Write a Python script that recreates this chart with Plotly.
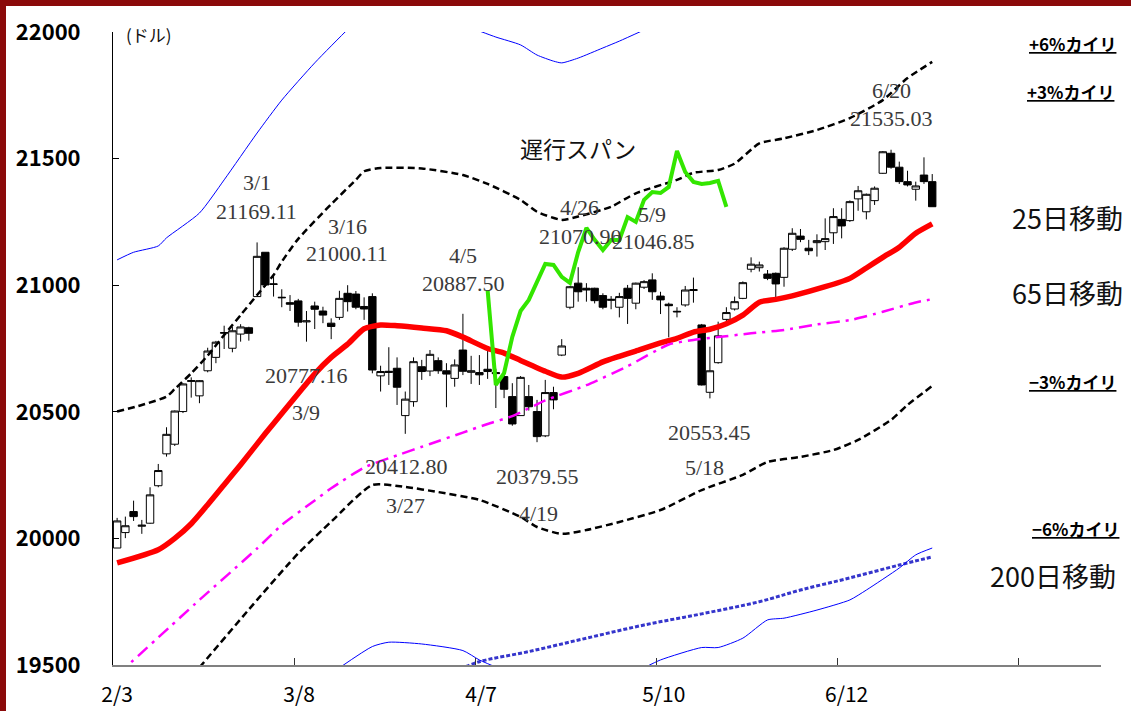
import plotly.graph_objects as go

# ---------------- data ----------------
dates = ["2/3","2/6","2/7","2/8","2/9","2/10","2/13","2/14","2/15","2/16","2/17",
         "2/21","2/22","2/23","2/24","2/27","2/28","3/1","3/2","3/3","3/6","3/7","3/8",
         "3/9","3/10","3/13","3/14","3/15","3/16","3/17","3/20","3/21","3/22","3/23",
         "3/24","3/27","3/28","3/29","3/30","3/31","4/3","4/4","4/5","4/6","4/7",
         "4/10","4/11","4/12","4/13","4/17","4/18","4/19","4/20","4/21","4/24","4/25",
         "4/26","4/27","4/28","5/1","5/2","5/3","5/4","5/5","5/8","5/9","5/10","5/11",
         "5/12","5/15","5/16","5/17","5/18","5/19","5/22","5/23","5/24","5/25","5/26",
         "5/30","5/31","6/1","6/2","6/5","6/6","6/7","6/8","6/9","6/12","6/13","6/14",
         "6/15","6/16","6/19","6/20","6/21","6/22","6/23","6/26","6/27"]

open_ = [19962,20023,20106,20048,20060,20208,20334,20372,20501,20620,20563,
         20662,20715,20810,20751,20807,20832,20955,21130,21003,20950,20931,20938,
         20855,20918,20898,20850,20873,20968,20965,20916,20955,20642,20660,
         20672,20485,20540,20678,20661,20702,20662,20632,20744,20656,20655,
         20668,20655,20639,20560,20485,20560,20501,20405,20576,20724,20913,
         21008,20988,20988,20959,20940,20913,20988,20929,20992,21021,20957,20925,
         20897,20922,20983,20843,20577,20694,20865,20906,20948,21063,21069,
         21044,21047,21031,21142,21194,21146,21168,21172,21207,21260,21255,21341,
         21290,21334,21442,21521,21466,21409,21379,21435,21409]
high = [20081,20086,20149,20073,20202,20294,20439,20505,20612,20636,20625,
        20753,20780,20840,20836,20846,20836,21169,21130,21038,20984,20961,20946,
        20898,20935,20915,20869,20978,21000,20977,20952,20968,20682,20755,
        20715,20580,20715,20705,20744,20715,20692,20707,20887,20721,20724,
        20744,20670,20649,20613,20641,20606,20547,20626,20599,20787,20997,
        21071,21008,20990,20968,20957,20970,21001,21010,21020,21047,20974,20931,
        20913,20997,21030,20847,20757,20856,20913,20955,21015,21110,21093,
        21060,21050,21150,21225,21222,21179,21201,21264,21304,21304,21335,21392,
        21362,21390,21530,21535,21488,21452,21409,21505,21439]
low = [19962,20001,20069,20018,20058,20202,20323,20365,20495,20556,20534,
       20656,20692,20748,20735,20777,20781,20955,20994,20955,20913,20898,20836,
       20777,20827,20850,20787,20863,20896,20905,20863,20652,20580,20606,
       20527,20413,20520,20626,20641,20650,20518,20599,20645,20610,20606,
       20630,20515,20554,20445,20485,20505,20380,20400,20510,20720,20905,
       20935,20935,20928,20905,20905,20873,20847,20905,20985,20942,20886,20794,
       20873,20915,20931,20604,20553,20690,20847,20900,20945,21051,21054,
       21020,20948,20994,21135,21170,21119,21113,21139,21163,21185,21250,21294,
       21260,21317,21440,21460,21400,21390,21334,21400,21310]
close = [20069,20050,20086,20052,20172,20268,20411,20503,20610,20623,20623,
         20740,20775,20813,20820,20835,20810,21114,21001,21005,20952,20925,20854,
         20859,20905,20882,20837,20948,20935,20913,20906,20665,20659,20656,
         20597,20550,20698,20659,20727,20662,20649,20685,20660,20662,20646,
         20659,20651,20589,20452,20636,20520,20402,20576,20547,20760,20994,
         20974,20981,20939,20913,20944,20955,20948,21008,21014,20974,20942,20919,
         20895,20981,20979,20606,20662,20800,20892,20935,21010,21083,21080,
         21027,21005,21146,21205,21181,21136,21176,21184,21271,21234,21330,21373,
         21359,21383,21527,21466,21409,21396,21392,21409,21310]
day = list(range(len(dates)))

# 25-day moving average
ma25_x = [0,5,7,9,11,13,15,18,20,22,24,26,28,30,32,34,37,40,42,45,47,49,52,54,56,59,
          61,63,66,68,70,72,74,76,78,80,82,86,89,91,93,95,97,99]
ma25_y = [19903,19955,20000,20058,20133,20212,20291,20414,20493,20572,20650,20715,20767,
          20828,20843,20840,20831,20820,20795,20750,20732,20703,20660,20637,20652,20697,
          20719,20740,20772,20790,20815,20826,20848,20882,20933,20944,20958,20994,21027,
          21068,21110,21150,21205,21242]
# 65-day moving average
ma65_x = [0,10,17,20,24,26,30,34,38,42,45,48,52,57,62,67,70,73,77,81,85,89,93,97,99]
ma65_y = [19460,19757,19960,20053,20150,20198,20280,20328,20373,20418,20452,20483,20545,
          20605,20680,20766,20784,20795,20810,20823,20845,20862,20895,20932,20945]
# 200-day moving average
ma200_x = [41,44,50,57,64,71,78,83,89,95,99]
ma200_y = [19475,19513,19553,19606,19658,19702,19750,19796,19844,19895,19927]
# +3% band
up3_x = [0,3,6,7,9,11,13,15,17,19,20,22,26,29,30,32,37,42,45,49,51,54,56,60,63,68,70,
         73,75,78,81,85,89,93,96,99]
up3_y = [20501,20527,20560,20590,20652,20722,20803,20882,20961,21040,21093,21183,21320,
         21416,21450,21463,21461,21435,21400,21337,21290,21258,21271,21310,21363,21416,
         21444,21455,21480,21560,21580,21613,21660,21731,21818,21882]
# -3% band
dn3_x = [10,17,22,26,31,35,39,44,49,51,54,57,61,66,71,76,79,83,87,90,94,96,99]
dn3_y = [19490,19757,19941,20066,20211,20203,20183,20152,20085,20045,20018,20033,20065,
         20112,20191,20251,20302,20322,20349,20389,20468,20527,20602]
# +6% band (two visible pieces)
up6_x = [0,2,5,6,10,13,17,20,24,28,29, None, 44,46,49,51,53,54,56,59,61,64]
up6_y = [21100,21130,21155,21187,21285,21416,21601,21731,21878,22010,22040, None,
         22004,21980,21949,21909,21885,21878,21897,21937,21964,22008]
# -6% band (two visible pieces)
dn6_x = [27,31,33,37,42,44,47, None, 64,66,71,73,76,79,81,85,89,91,95,97,99]
dn6_y = [19489,19573,19590,19583,19557,19520,19478, None,
         19489,19520,19569,19569,19606,19678,19685,19717,19757,19796,19883,19935,19962]
# lagging span
lag_x = list(range(45, 75))
lag_y = [20980,20606,20653,20796,20898,20942,21013,21084,21080,21033,21009,21131,21226,
         21179,21139,21179,21179,21269,21250,21337,21368,21364,21388,21530,21447,21408,
         21400,21404,21412,21309]

tick_label_pos = [0, 22.1, 44.2, 66.4, 88.6]
tick_label_txt = ["2/3", "3/8", "4/7", "5/10", "6/12"]
tick_mark_pos = [21.5, 43.5, 65.5, 87.5, 109.5]
y_ticks = [19500, 20000, 20500, 21000, 21500, 22000]

# ---------------- figure ----------------
W, H = 1131, 711
ML, MR, MT, MB = 113, 30, 32, 46
PW, PH = W - ML - MR, H - MT - MB


def px(x):
    return (x - ML) / PW


def py(y):
    return (H - MB - y) / PH


fig = go.Figure()

fig.add_trace(go.Scatter(x=ma25_x, y=ma25_y, mode="lines",
                         line=dict(color="#ff0000", width=5.5, shape="spline", smoothing=0.6)))
fig.add_trace(go.Candlestick(
    x=day, open=open_, high=high, low=low, close=close,
    increasing=dict(line=dict(color="#000000", width=1), fillcolor="#ffffff"),
    decreasing=dict(line=dict(color="#000000", width=1), fillcolor="#000000"),
    whiskerwidth=0))
fig.add_trace(go.Scatter(x=ma65_x, y=ma65_y, mode="lines",
                         line=dict(color="#ff00ff", width=2.5, dash="13px,6px,3px,6px",
                                   shape="spline", smoothing=0.5)))
fig.add_trace(go.Scatter(x=ma200_x, y=ma200_y, mode="lines",
                         line=dict(color="#3535cc", width=3, dash="4px,2px", shape="spline")))
fig.add_trace(go.Scatter(x=up3_x, y=up3_y, mode="lines",
                         line=dict(color="#000000", width=2.5, dash="7px,4px", shape="spline", smoothing=0.6)))
fig.add_trace(go.Scatter(x=dn3_x, y=dn3_y, mode="lines",
                         line=dict(color="#000000", width=2.5, dash="7px,4px", shape="spline", smoothing=0.6)))
fig.add_trace(go.Scatter(x=up6_x, y=up6_y, mode="lines",
                         line=dict(color="#0000ff", width=1, shape="spline", smoothing=0.6)))
fig.add_trace(go.Scatter(x=dn6_x, y=dn6_y, mode="lines",
                         line=dict(color="#0000ff", width=1, shape="spline", smoothing=0.6)))
fig.add_trace(go.Scatter(x=lag_x, y=lag_y, mode="lines",
                         line=dict(color="#33e600", width=4)))
# carrier for tick-mark axis
fig.add_trace(go.Scatter(x=[0], y=[None], xaxis="x2", mode="lines", hoverinfo="skip"))

serif = "Liberation Serif, DejaVu Serif, serif"
labels = [
    ("3/1", 257, 183), ("21169.11", 256, 211),
    ("3/16", 347, 226), ("21000.11", 347, 254),
    ("20777.16", 306, 375), ("3/9", 306, 412),
    ("4/5", 463, 256), ("20887.50", 463, 283),
    ("20412.80", 406, 466), ("3/27", 405, 505),
    ("20379.55", 537, 476), ("4/19", 538, 513),
    ("4/26", 579, 208), ("21070.90", 580, 236),
    ("5/9", 652, 214), ("21046.85", 653, 241),
    ("20553.45", 709, 432), ("5/18", 704, 468),
    ("6/20", 891, 90), ("21535.03", 891, 118),
]
ann = []
for t, x, y in labels:
    ann.append(dict(text=t, x=px(x), y=py(y), xref="paper", yref="paper",
                    showarrow=False, xanchor="center", yanchor="middle",
                    font=dict(family=serif, size=22, color="#3a3a3a")))

jp = "Noto Sans CJK JP, sans-serif"
ann.append(dict(text="遅行スパン", x=px(578), y=py(148), xref="paper", yref="paper",
                showarrow=False, xanchor="center", yanchor="middle",
                font=dict(family=jp, size=23, color="#111111")))
ann.append(dict(text="(ドル)", x=px(149), y=py(34), xref="paper", yref="paper",
                showarrow=False, xanchor="center", yanchor="middle",
                font=dict(family=jp, size=17, color="#111111")))

narrow = "Liberation Sans Narrow, Arial Narrow, Noto Sans CJK JP, sans-serif"
for t, x, y in [("+6%カイリ", 1072, 44), ("+3%カイリ", 1070, 91),
                ("−3%カイリ", 1072, 381), ("−6%カイリ", 1075, 528)]:
    ann.append(dict(text="<b>" + t + "</b>", x=px(x), y=py(y), xref="paper", yref="paper",
                    showarrow=False, xanchor="center", yanchor="middle",
                    font=dict(family=narrow, size=17, color="#000000", lineposition="under")))
for t, x, y in [("25日移動", 1010, 217), ("65日移動", 1010, 292), ("200日移動", 988, 575)]:
    ann.append(dict(text=t, x=px(x), y=py(y), xref="paper", yref="paper",
                    showarrow=False, xanchor="left", yanchor="middle",
                    font=dict(family=jp, size=27, color="#111111")))

fig.update_layout(
    width=W, height=H,
    margin=dict(l=ML, r=MR, t=MT, b=MB, autoexpand=False),
    paper_bgcolor="white", plot_bgcolor="white",
    showlegend=False,
    boxgap=0.1, boxgroupgap=0,
    annotations=ann,
    xaxis=dict(range=[-0.5, 119.5], tickmode="array", tickvals=tick_label_pos,
               ticktext=tick_label_txt, ticks="", showgrid=False, zeroline=False,
               showline=True, linecolor="#808080", linewidth=2, automargin=False,
               rangeslider=dict(visible=False), ticklabelstandoff=10,
               tickfont=dict(family=narrow, size=21, color="#000000")),
    xaxis2=dict(range=[-0.5, 119.5], overlaying="x", anchor="y", side="bottom",
                tickmode="array", tickvals=tick_mark_pos, ticks="inside", ticklen=7,
                tickcolor="#333333", tickwidth=1, showticklabels=False, automargin=False,
                showgrid=False, zeroline=False, showline=False),
    yaxis=dict(range=[19500, 22000], tickmode="array", tickvals=y_ticks,
               ticktext=[str(v) for v in y_ticks], ticks="inside", ticklen=6,
               tickcolor="#000000", showgrid=False, zeroline=False,
               showline=True, linecolor="#000000", linewidth=1, automargin=False,
               ticklabelstandoff=27,
               tickfont=dict(family=narrow, size=22, color="#000000", weight="bold")),
    shapes=[dict(type="rect", xref="paper", yref="paper",
                 x0=px(3), x1=px(1250), y0=py(800), y1=py(3),
                 line=dict(color="#8b0a0a", width=6), fillcolor="rgba(0,0,0,0)",
                 layer="above")],
)

fig.write_html("out.html", config={"displayModeBar": False},
               post_script="document.body.style.margin='0px';document.body.style.padding='0px';")
